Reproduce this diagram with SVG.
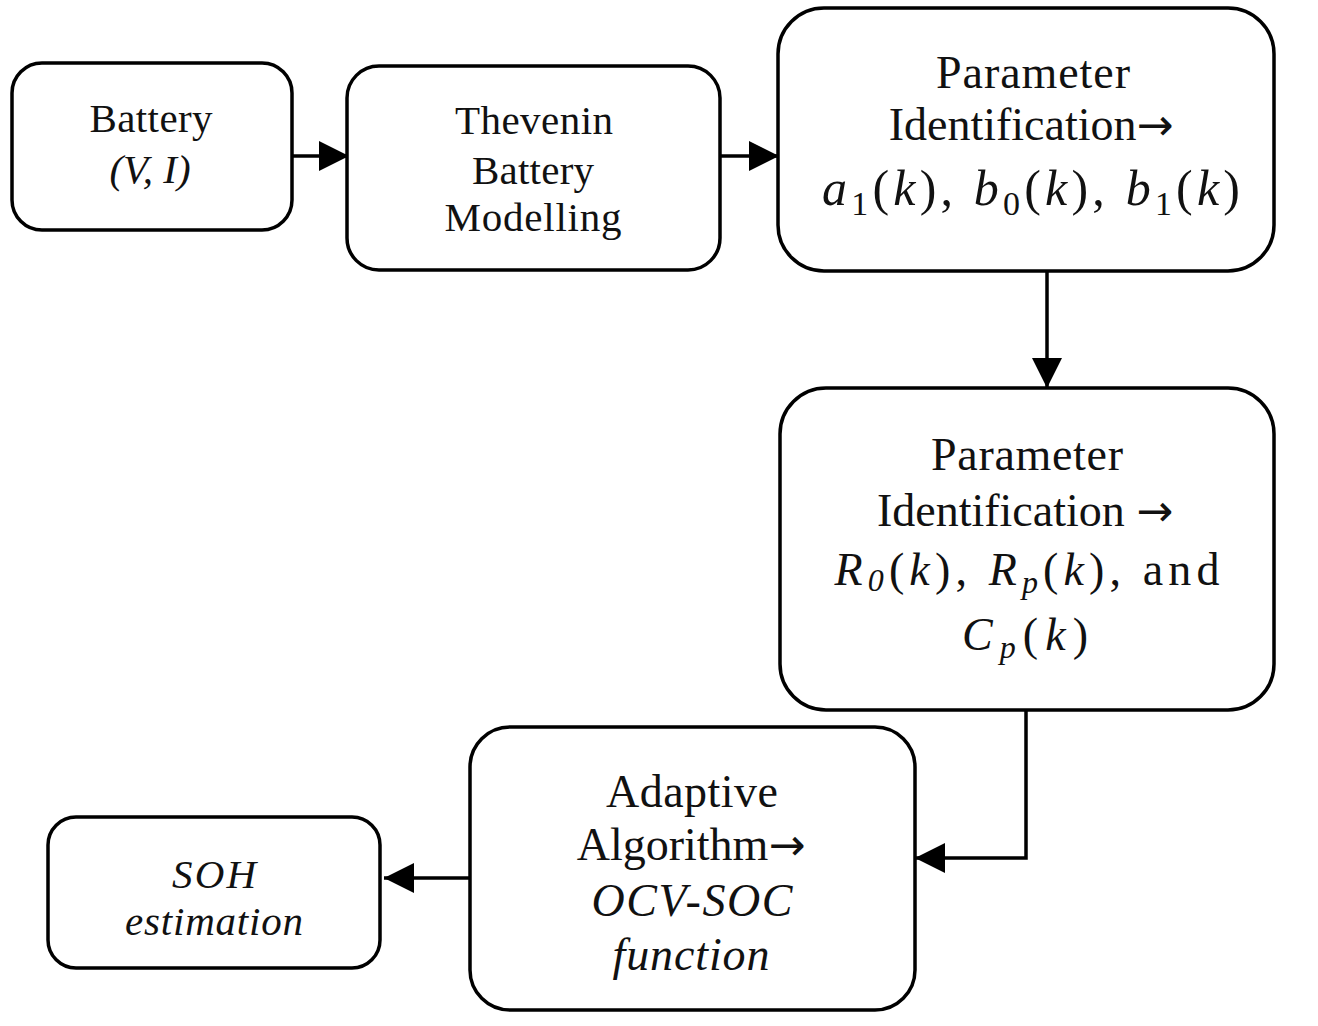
<svg xmlns="http://www.w3.org/2000/svg" width="1318" height="1026" viewBox="0 0 1318 1026">
<style>
.box{fill:#fff;stroke:#000;stroke-width:3.5}
.t{font-family:"Liberation Serif","Times New Roman",serif;fill:#111;text-anchor:middle}
.s{font-size:41px}
.l{font-size:46px}
.i{font-style:italic}
.arr{font-family:"DejaVu Sans",sans-serif;font-size:44px}
.edge{fill:none;stroke:#000;stroke-width:3.5}
</style>
<defs>
<marker id="ah" markerUnits="userSpaceOnUse" markerWidth="32" markerHeight="32" refX="30" refY="15" orient="auto" viewBox="0 0 32 30">
<path d="M0,0 L30,15 L0,30 Z" fill="#000"/>
</marker>
</defs>
<rect width="1318" height="1026" fill="#fff"/>
<g id="connectors">
<path class="edge" d="M292,156 L349,156" marker-end="url(#ah)"/>
<path class="edge" d="M720,156 L779,156" marker-end="url(#ah)"/>
<path class="edge" d="M1047,271 L1047,388" marker-end="url(#ah)"/>
<path class="edge" d="M1026,710 L1026,858 L915,858" marker-end="url(#ah)"/>
<path class="edge" d="M470,878 L384,878" marker-end="url(#ah)"/>
</g>
<g id="battery">
<rect class="box" x="12" y="63" width="280" height="167" rx="30"/>
<text class="t s" x="151" y="132" textLength="123">Battery</text>
<text class="t s i" x="150" y="183">(V, I)</text>
</g>
<g id="thevenin">
<rect class="box" x="347" y="66" width="373" height="204" rx="32"/>
<text class="t s" x="534" y="134" textLength="158">Thevenin</text>
<text class="t s" x="533" y="184" textLength="122">Battery</text>
<text class="t s" x="533" y="231" textLength="177">Modelling</text>
</g>
<g id="param1">
<rect class="box" x="778" y="8" width="496" height="263" rx="46"/>
<text class="t l" x="1033" y="88" textLength="194">Parameter</text>
<text class="t l" x="1031" y="140">Identification<tspan class="arr">→</tspan></text>
<text class="t" x="1031" y="205" font-size="50" textLength="418"><tspan font-style="italic">a</tspan><tspan font-size="34" dy="10">1</tspan><tspan dy="-10">(</tspan><tspan font-style="italic">k</tspan>), <tspan font-style="italic">b</tspan><tspan font-size="34" dy="10">0</tspan><tspan dy="-10">(</tspan><tspan font-style="italic">k</tspan>), <tspan font-style="italic">b</tspan><tspan font-size="34" dy="10">1</tspan><tspan dy="-10">(</tspan><tspan font-style="italic">k</tspan>)</text>
</g>
<g id="param2">
<rect class="box" x="780" y="388" width="494" height="322" rx="46"/>
<text class="t l" x="1027" y="470" textLength="192">Parameter</text>
<text class="t l" x="1025" y="526">Identification <tspan class="arr">→</tspan></text>
<text class="t l" x="1027" y="585" textLength="385"><tspan font-style="italic">R</tspan><tspan font-style="italic" font-size="32" dy="6">0</tspan><tspan dy="-6">(</tspan><tspan font-style="italic">k</tspan>), <tspan font-style="italic">R</tspan><tspan font-style="italic" font-size="32" dy="8">p</tspan><tspan dy="-8">(</tspan><tspan font-style="italic">k</tspan>), and</text>
<text class="t l" x="1025" y="650" textLength="126"><tspan font-style="italic">C</tspan><tspan font-style="italic" font-size="32" dy="8">p</tspan><tspan dy="-8">(</tspan><tspan font-style="italic">k</tspan>)</text>
</g>
<g id="adaptive">
<rect class="box" x="470" y="727" width="445" height="283" rx="40"/>
<text class="t l" x="692" y="807" textLength="172">Adaptive</text>
<text class="t l" x="691" y="860">Algorithm<tspan class="arr">→</tspan></text>
<text class="t l i" x="692" y="916" textLength="201">OCV-SOC</text>
<text class="t l i" x="691" y="970" textLength="157">function</text>
</g>
<g id="soh">
<rect class="box" x="48" y="817" width="332" height="151" rx="28"/>
<text class="t s i" x="214" y="888" textLength="84">SOH</text>
<text class="t s i" x="214" y="935" textLength="178">estimation</text>
</g>
</svg>
